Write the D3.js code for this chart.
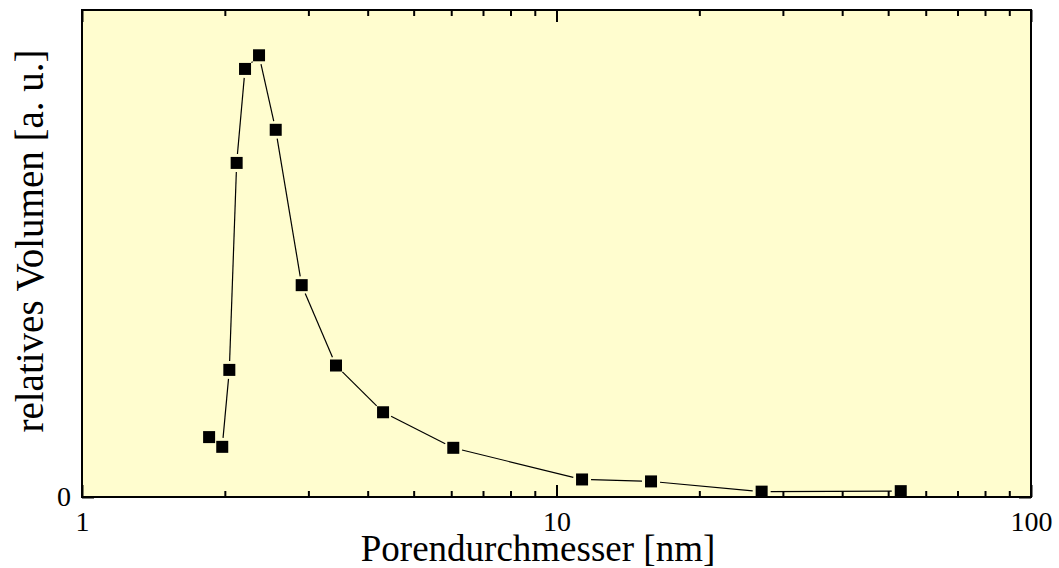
<!DOCTYPE html>
<html>
<head>
<meta charset="utf-8">
<title>Porengrößenverteilung</title>
<style>
    body { margin: 0; background: #fff; }
    text { font-family: "Liberation Serif", "Times New Roman", serif; fill: #000; }
    .tick line { stroke: #000; stroke-width: 2px; }
    .tick text { font-size: 28px; }
    .series { fill: none; stroke: #000; stroke-width: 1.2px; }
</style>
<script src="https://d3js.org/d3.v7.min.js"></script>
</head>
<body>
<svg id="chart" width="1059" height="568"></svg>
<script>
    // Porendurchmesser [nm] und relatives Volumen
    var diameters = [1.853, 1.975, 2.044, 2.118, 2.206, 2.361, 2.560, 2.904, 3.43, 4.31, 6.06, 11.32, 15.82, 27.06, 53.15];
    var volumes = [0.123, 0.103, 0.261, 0.686, 0.879, 0.907, 0.754, 0.435, 0.270, 0.174, 0.101, 0.036, 0.032, 0.011, 0.012];
    var majorTicks = [1, 10, 100];
    var minorTicks = [2, 3, 4, 5, 6, 7, 8, 9, 20, 30, 40, 50, 60, 70, 80, 90];
    var yTicks = [0];

    var svg = d3.select("#chart");
    var plotLeft = 82, plotRight = 1031, plotTop = 10, plotBottom = 497;

    var x = d3.scaleLog().domain([1, 100]).range([plotLeft, plotRight]);
    var y = d3.scaleLinear().domain([0, 1]).range([plotBottom, plotTop]);

    svg.append("rect")
        .attr("x", plotLeft).attr("y", plotTop)
        .attr("width", plotRight - plotLeft).attr("height", plotBottom - plotTop)
        .attr("fill", "#fffdcf");

    // Achsen: Striche nach innen
    svg.append("g").attr("transform", "translate(0," + plotBottom + ")")
        .call(d3.axisBottom(x).tickValues(minorTicks).tickSize(-6).tickFormat(""));
    svg.append("g").attr("transform", "translate(0," + plotBottom + ")")
        .call(d3.axisBottom(x).tickValues(majorTicks).tickSize(-12).tickPadding(14).tickFormat(d3.format("d")));
    svg.append("g").attr("transform", "translate(0," + plotTop + ")")
        .call(d3.axisTop(x).tickValues(minorTicks).tickSize(-6).tickFormat(""));
    svg.append("g").attr("transform", "translate(0," + plotTop + ")")
        .call(d3.axisTop(x).tickValues(majorTicks).tickSize(-12).tickFormat(""));
    svg.append("g").attr("transform", "translate(" + plotLeft + ",0)")
        .call(d3.axisLeft(y).tickValues(yTicks).tickSize(-12).tickPadding(11).tickFormat(d3.format("d")));
    svg.append("g").attr("transform", "translate(" + plotRight + ",0)")
        .call(d3.axisRight(y).tickValues(yTicks).tickSize(-12).tickFormat(""));
    svg.selectAll(".domain").remove();

    svg.append("rect")
        .attr("x", plotLeft).attr("y", plotTop)
        .attr("width", plotRight - plotLeft).attr("height", plotBottom - plotTop)
        .attr("fill", "none").attr("stroke", "#000").attr("stroke-width", 2);

    var pts = diameters.map(function(d, i) { return [x(d), y(volumes[i])]; });

    // Verbindungslinien mit Abstand zu den Markern
    var gap = 9;
    for (var i = 0; i < pts.length - 1; i++) {
        var a = pts[i], b = pts[i + 1];
        var dx = b[0] - a[0], dy = b[1] - a[1];
        var len = Math.sqrt(dx * dx + dy * dy);
        if (len <= 2 * gap) continue;
        var ux = dx / len, uy = dy / len;
        svg.append("line").attr("class", "series")
            .attr("x1", a[0] + ux * gap).attr("y1", a[1] + uy * gap)
            .attr("x2", b[0] - ux * gap).attr("y2", b[1] - uy * gap);
    }

    svg.selectAll(".marker").data(pts).enter().append("rect")
        .attr("class", "marker")
        .attr("x", function(d) { return d[0] - 6; })
        .attr("y", function(d) { return d[1] - 6; })
        .attr("width", 12).attr("height", 12)
        .attr("fill", "#000");

    svg.append("text")
        .attr("x", 538).attr("y", 561)
        .attr("text-anchor", "middle")
        .style("font-size", "37px")
        .text("Porendurchmesser [nm]");

    svg.append("text")
        .attr("transform", "translate(43,241) rotate(-90)")
        .attr("text-anchor", "middle")
        .style("font-size", "39px")
        .text("relatives Volumen [a. u.]");
</script>
</body>
</html>
